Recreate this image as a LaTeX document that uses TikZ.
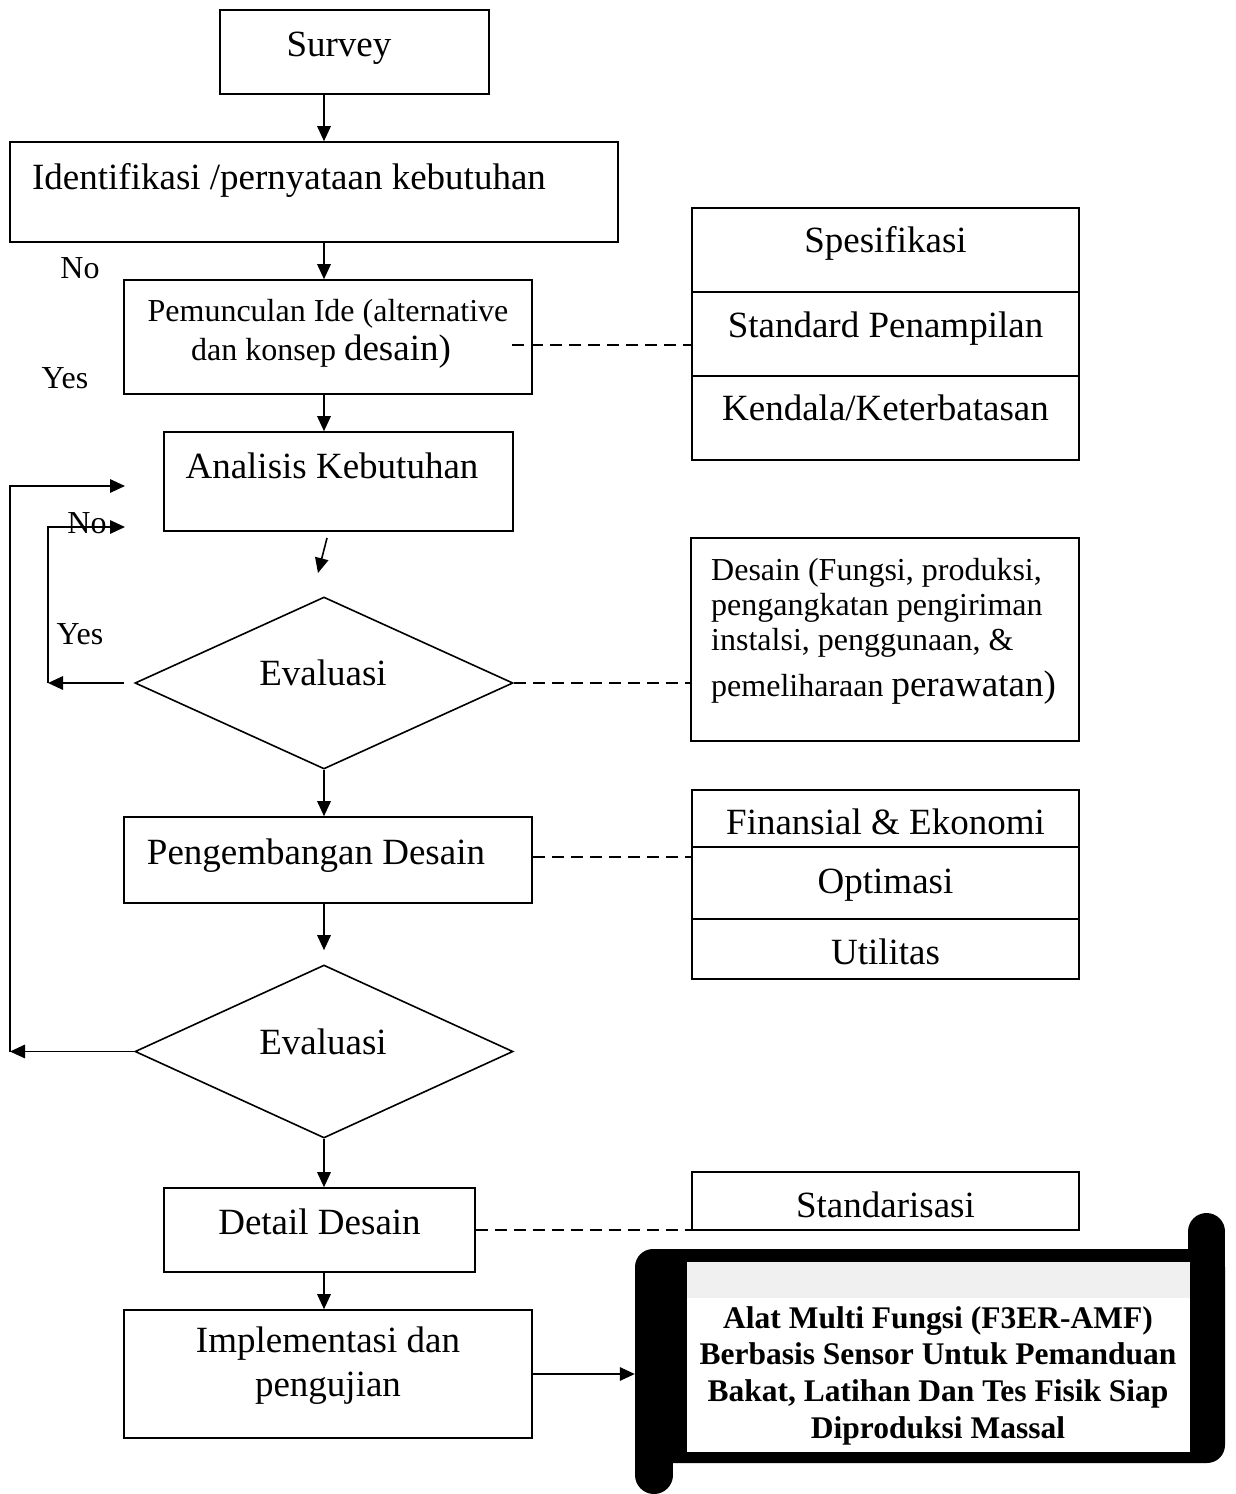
\documentclass[tikz,border=0pt]{standalone}
\usepackage{fontspec}
\setmainfont{Liberation Serif}
\usetikzlibrary{shapes.geometric,arrows.meta}
\begin{document}
\begin{tikzpicture}[x=1pt,y=-1pt,
  box/.style={draw, line width=1.6pt, inner sep=0pt},
  dia/.style={draw, diamond, line width=1.6pt, inner sep=0pt},
  big/.style={inner sep=0pt, font=\fontsize{37}{44}\selectfont, text height=24.4pt, text depth=0pt},
  small/.style={inner sep=0pt, font=\fontsize{32}{35}\selectfont, text height=21.1pt, text depth=0pt},
  arr/.style={line width=1.6pt, -{Triangle[length=15pt,width=13.5pt]}},
  dsh/.style={line width=1.6pt, dash pattern=on 12pt off 7pt}]
\useasboundingbox (0,0) rectangle (1236,1494);

% main column boxes
\node[box, minimum width=269pt, minimum height=84pt] (survey) at (354.5,52) {};
\node[big] at (339,44) {Survey};
\node[box, minimum width=608pt, minimum height=100pt] (ident) at (314,192) {};
\node[big] at (289,177) {Identifikasi /pernyataan kebutuhan};
\node[box, minimum width=408pt, minimum height=114pt] (pem) at (328,337) {};
\node[small] at (328,311) {Pemunculan Ide (alternative};
\node[small] at (321,350) {dan konsep {\fontsize{37}{44}\selectfont desain)}};
\node[box, minimum width=349pt, minimum height=99pt] (anal) at (338.5,481.5) {};
\node[big] at (332,466) {Analisis Kebutuhan};
\node[dia, minimum width=378pt, minimum height=172pt] (ev1) at (324,683) {};
\node[big] at (323,673) {Evaluasi};
\node[box, minimum width=408pt, minimum height=86pt] (peng) at (328,860) {};
\node[big] at (316,852) {Pengembangan Desain};
\node[dia, minimum width=378pt, minimum height=173pt] (ev2) at (324,1051.5) {};
\node[big] at (323,1042) {Evaluasi};
\node[box, minimum width=311pt, minimum height=84pt] (detail) at (319.5,1230) {};
\node[big] at (319.5,1222) {Detail Desain};
\node[box, minimum width=408pt, minimum height=128pt] (impl) at (328,1374) {};
\node[big] at (328,1340) {Implementasi dan};
\node[big] at (328,1384) {pengujian};

% right side boxes
\node[box, minimum width=387pt, minimum height=84pt] (spes) at (885.5,250) {};
\node[big] at (885.5,240) {Spesifikasi};
\node[box, minimum width=387pt, minimum height=84pt] (std) at (885.5,334) {};
\node[big] at (885.5,325) {Standard Penampilan};
\node[box, minimum width=387pt, minimum height=84pt] (kend) at (885.5,418) {};
\node[big] at (885.5,408) {Kendala/Keterbatasan};

\node[box, minimum width=388pt, minimum height=203pt] (desc) at (885,639.5) {};
\node[small, anchor=west] at (711,570) {Desain (Fungsi, produksi,};
\node[small, anchor=west] at (711,605) {pengangkatan pengiriman};
\node[small, anchor=west] at (711,640) {instalsi, penggunaan, \&};
\node[small, anchor=west] at (711,686) {pemeliharaan {\fontsize{37}{44}\selectfont perawatan)}};

\node[box, minimum width=387pt, minimum height=57pt] (fin) at (885.5,818.5) {};
\node[big] at (885.5,822) {Finansial \& Ekonomi};
\node[box, minimum width=387pt, minimum height=72pt] (opt) at (885.5,883) {};
\node[big] at (885.5,881) {Optimasi};
\node[box, minimum width=387pt, minimum height=60pt] (util) at (885.5,949) {};
\node[big] at (885.5,952) {Utilitas};

\node[box, minimum width=387pt, minimum height=58pt] (stdz) at (885.5,1201) {};
\node[big] at (885.5,1205) {Standarisasi};

% scroll
\node[fill=black, rounded corners=18pt, minimum width=590pt, minimum height=214pt, inner sep=0pt] (scroll) at (930,1356) {};
\fill (1188,1232) rectangle (1225,1300);
\fill (1206.5,1231.5) circle[radius=18.5pt];
\fill (635,1440) rectangle (673,1475);
\fill (654,1475) circle[radius=19pt];
\fill[white] (687,1262) rectangle (1190,1452);
\fill[black!6] (687,1262) rectangle (1190,1298);
\node[font=\bfseries\fontsize{31.5}{36.7}\selectfont, align=center, inner sep=0pt] (scrolltext) at (938,1375.6)
  {Alat Multi Fungsi (F3ER-AMF)\\Berbasis Sensor Untuk Pemanduan\\Bakat, Latihan Dan Tes Fisik Siap\\Diproduksi Massal};

% labels
\node[small] (no1) at (80,268) {No};
\node[small] (yes1) at (65,378) {Yes};
\node[small] (no2) at (87,523) {No};
\node[small] (yes2) at (80,634) {Yes};

% main arrows
\coordinate (col) at (324,0);
\draw[arr] (col |- survey.south) -- (col |- ident.north);
\draw[arr] (col |- ident.south) -- (col |- pem.north);
\draw[arr] (col |- pem.south) -- (col |- anal.north);
\coordinate (s1) at (327,538);
\coordinate (s2) at (318,573);
\draw[arr] (s1) -- (s2);
\draw[arr] (ev1.south) -- (col |- peng.north);
\draw[arr] (col |- peng.south) -- ([yshift=14pt]ev2.north);
\draw[arr] (ev2.south) -- (col |- detail.north);
\draw[arr] (col |- detail.south) -- (col |- impl.north);
\draw[arr] (impl.east) -- (impl.east -| scroll.west);

% loops
\coordinate (L1) at (10,486);
\coordinate (T1) at (125,486);
\coordinate (L2) at (48,527);
\coordinate (T2) at (125,527);
\draw[arr] (ev2.west) -- (L1 |- ev2.west);
\draw[arr] (L1 |- ev2.west) -- (L1) -- (T1);
\draw[arr] ([xshift=-10pt]ev1.west) -- (L2 |- ev1.west);
\draw[arr] (L2 |- ev1.west) -- (L2) -- (T2);

% dashed links
\coordinate (d1) at (512,345);
\draw[dsh] (d1) -- (d1 -| std.west);
\draw[dsh] (ev1.east) -- (ev1.east -| desc.west);
\draw[dsh] ([yshift=3pt]peng.east) -- ([yshift=3pt]peng.east -| fin.west);
\draw[dsh] (detail.east) -- (detail.east -| stdz.west);
\end{tikzpicture}
\end{document}
